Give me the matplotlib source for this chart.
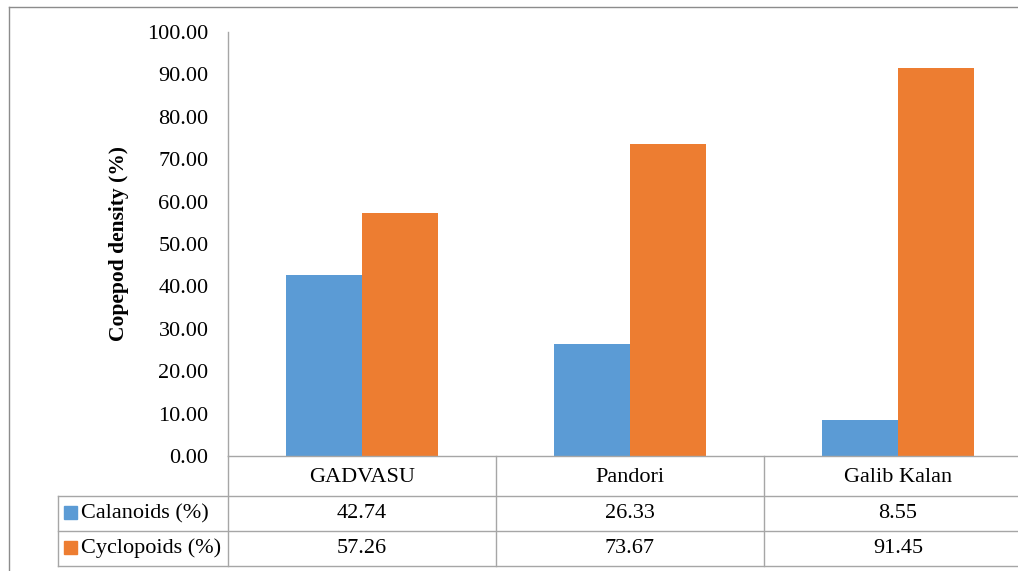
import numpy as np
import matplotlib
matplotlib.use("Agg")
import matplotlib.pyplot as plt
from matplotlib.lines import Line2D
from matplotlib.patches import Rectangle
import matplotlib.transforms as mtransforms

# --- data ---
sites = ["GADVASU", "Pandori", "Galib Kalan"]
calanoids = [42.74, 26.33, 8.55]
cyclopoids = [57.26, 73.67, 91.45]
series_names = ["Calanoids (%)", "Cyclopoids (%)"]
yticks = [0, 10, 20, 30, 40, 50, 60, 70, 80, 90, 100]

BLUE = "#5B9BD5"
ORANGE = "#ED7D31"
GRID = "#A6A6A6"
FRAME = "#8C8C8C"
FS = 16

W, H = 1018, 571
plt.rcParams["font.family"] = ["Liberation Serif", "DejaVu Serif"]


def fx(x):
    return x / W


def fy(y):
    return 1 - y / H


fig = plt.figure(figsize=(W / 100, H / 100), dpi=100)
fig.patch.set_facecolor("white")

# plot area: category width ~268 px, third column runs off the right edge
ax = fig.add_axes([fx(228), fy(456), fx(1032) - fx(228), fy(32) - fy(456)])
ax.set_xlim(-0.5, 2.5)
ax.set_ylim(0, 100)

x = np.arange(len(sites))
bw = 0.284
ax.bar(x - bw / 2, calanoids, bw, color=BLUE, label=series_names[0])
ax.bar(x + bw / 2, cyclopoids, bw, color=ORANGE, label=series_names[1])

for s in ["top", "right", "bottom"]:
    ax.spines[s].set_visible(False)
ax.spines["left"].set_color(GRID)
ax.spines["left"].set_linewidth(1.0)
ax.set_xticks([])
ax.set_yticks(yticks)
ax.set_yticklabels([f"{v:.2f}" for v in yticks], fontsize=FS)
ax.tick_params(axis="y", length=0, pad=14)
ax.set_ylabel("Copepod density (%)", fontsize=15.5, fontweight="bold")
ax.yaxis.label.set_va("center")
ax.yaxis.set_label_coords(-0.136, 0.502)

# --- data table under the plot ---
bounds = [-0.5, 0.5, 1.5, 2.5]
xpix = [ax.transData.transform((b, 0))[0] for b in bounds]
trans = mtransforms.blended_transform_factory(ax.transData, fig.transFigure)

rows_y = [456, 496, 531, 566]
table_left = 58


def hline(y, x0, x1, color=GRID):
    fig.add_artist(Line2D([fx(x0), fx(x1)], [fy(y), fy(y)], color=color, lw=1.0))


def vline(xp, y0, y1, color=GRID):
    fig.add_artist(Line2D([fx(xp), fx(xp)], [fy(y0), fy(y1)], color=color, lw=1.0))


hline(rows_y[0], xpix[0], W)
for y in rows_y[1:]:
    hline(y, table_left, W)
vline(table_left, rows_y[1], rows_y[3])
vline(xpix[0], rows_y[0], rows_y[3])
for xp in xpix[1:-1]:
    vline(xp, rows_y[0], rows_y[3])

for i, name in enumerate(sites):
    fig.text(i, fy((rows_y[0] + rows_y[1]) / 2 + 1), name, transform=trans,
             ha="center", va="center", fontsize=FS)

for r, (vals, col) in enumerate([(calanoids, BLUE), (cyclopoids, ORANGE)]):
    yc = (rows_y[r + 1] + rows_y[r + 2]) / 2
    fig.add_artist(Rectangle((fx(64), fy(yc + 5.5)), fx(13), fy(0) - fy(13),
                             color=col, transform=fig.transFigure))
    fig.text(fx(81), fy(yc), series_names[r], ha="left", va="center", fontsize=FS)
    for i, v in enumerate(vals):
        fig.text(i, fy(yc), f"{v:.2f}", transform=trans,
                 ha="center", va="center", fontsize=FS)

# outer chart frame
hline(7, 9, W, color=FRAME)
vline(9, 7, H, color=FRAME)

fig.savefig("out.png", dpi=100)
